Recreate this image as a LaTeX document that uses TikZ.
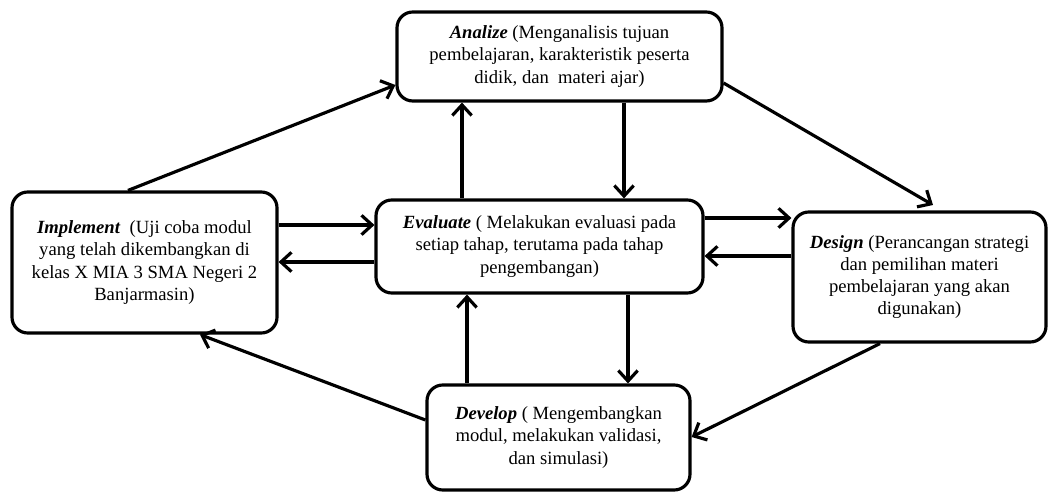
\documentclass[tikz,border=0pt]{standalone}
\usepackage{fontspec}
\setmainfont{Liberation Serif}
\usetikzlibrary{arrows.meta}

\tikzset{
  stage/.style={draw, line width=1.8pt, rounded corners=9pt, align=center,
    inner sep=0pt, font=\fontsize{10.6}{12.6}\selectfont},
  flow/.style={-{Straight Barb[length=6pt,width=11pt,line width=1.8pt]}, line width=1.8pt}
}

\begin{document}
\begin{tikzpicture}

\useasboundingbox (0,0) rectangle (20.98,9.84);

\node [stage, minimum width=6.5cm, minimum height=1.78cm] (ana) at (11.19,8.71)
  {\textbf{\textit{Analize}} (Menganalisis tujuan\\pembelajaran, karakteristik peserta\\didik, dan\ \ materi ajar)};
\node [stage, minimum width=5.3cm, minimum height=2.82cm] (imp) at (2.89,4.59)
  {\textbf{\textit{Implement}}\ \ (Uji coba modul\\yang telah dikembangkan di\\kelas X MIA 3 SMA Negeri 2\\Banjarmasin)};
\node [stage, minimum width=6.54cm, minimum height=1.86cm] (eva) at (10.79,4.91)
  {\textbf{\textit{Evaluate}} ( Melakukan evaluasi pada\\setiap tahap, terutama pada tahap\\pengembangan)};
\node [stage, minimum width=5.06cm, minimum height=2.6cm] (des) at (18.39,4.30)
  {\textbf{\textit{Design}} (Perancangan strategi\\dan pemilihan materi\\pembelajaran yang akan\\digunakan)};
\node [stage, minimum width=5.26cm, minimum height=2.1cm] (dev) at (11.17,1.09)
  {\textbf{\textit{Develop}} ( Mengembangkan\\modul, melakukan validasi,\\dan simulasi)};

% outer cycle
\draw [flow] (imp.north -| 2.56,0) -- (ana.west |- 0,8.14);
\draw [flow] (ana.east |- 0,8.18) -- (18.66,5.74);
\draw [flow] (des.south -| 17.6,0) -- (dev.east |- 0,1.10);
\draw [flow] (dev.west |- 0,1.44) -- (imp.south -| 4.0,0);

% to and from evaluate
\draw [flow] (ana.south -| 12.48,0) -- (eva.north -| 12.48,0);
\draw [flow] (eva.north -| 9.24,0) -- (ana.south -| 9.24,0);
\draw [flow] (eva.south -| 12.56,0) -- (dev.north -| 12.56,0);
\draw [flow] (dev.north -| 9.34,0) -- (eva.south -| 9.34,0);
\draw [flow] (imp.east |- 0,5.34) -- (eva.west |- 0,5.34);
\draw [flow] (eva.west |- 0,4.60) -- (imp.east |- 0,4.60);
\draw [flow] (eva.east |- 0,5.48) -- (des.west |- 0,5.48);
\draw [flow] (des.west |- 0,4.72) -- (eva.east |- 0,4.72);

\end{tikzpicture}
\end{document}
